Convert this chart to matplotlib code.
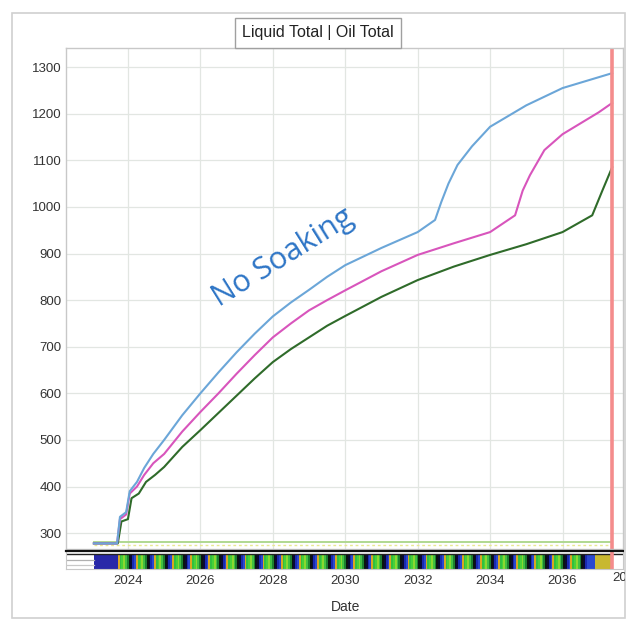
import matplotlib
matplotlib.use("Agg")
import matplotlib.pyplot as plt
import numpy as np
from matplotlib.patches import Rectangle
from matplotlib.colors import ListedColormap

# ---------------- data ----------------
blue_x = [2023.06, 2023.70, 2023.78, 2023.95, 2024.05, 2024.25, 2024.45, 2024.7, 2025, 2025.5, 2026, 2026.5,
          2027, 2027.5, 2028, 2028.5, 2029, 2029.5, 2030, 2031, 2032, 2032.48, 2032.65, 2032.85,
          2033.1, 2033.5, 2034, 2035, 2036, 2037.37]
blue_y = [278, 278, 335, 345, 390, 410, 440, 470, 500, 553, 600, 645,
          688, 728, 765, 795, 822, 850, 875, 912, 946, 972, 1010, 1050,
          1090, 1130, 1172, 1218, 1255, 1287]

pink_x = [2023.06, 2023.70, 2023.78, 2023.95, 2024.05, 2024.25, 2024.45, 2024.7, 2025, 2025.5, 2026, 2026.5,
          2027, 2027.5, 2028, 2028.5, 2029, 2029.5, 2030, 2031, 2032, 2033, 2034, 2034.69,
          2034.9, 2035.1, 2035.5, 2036, 2037, 2037.37]
pink_y = [278, 278, 330, 340, 385, 400, 425, 450, 470, 518, 560, 600,
          642, 682, 720, 750, 778, 800, 821, 862, 897, 922, 946, 982,
          1035, 1068, 1122, 1156, 1203, 1223]

green_x = [2023.06, 2023.72, 2023.82, 2024.0, 2024.1, 2024.3, 2024.5, 2024.75, 2025, 2025.5, 2026, 2026.5,
           2027, 2027.5, 2028, 2028.5, 2029, 2029.5, 2030, 2031, 2032, 2033, 2034, 2035,
           2036, 2036.82, 2037.1, 2037.37]
green_y = [278, 278, 325, 330, 375, 385, 410, 425, 442, 485, 521, 558,
           595, 632, 667, 695, 720, 745, 766, 807, 843, 872, 897, 920,
           946, 982, 1035, 1085]

base_x = [2023.06, 2037.37]
base_green_y = [281, 281]
base_dot_y = [275, 275]

end_date = 2037.37
x_ticks = [2024, 2026, 2028, 2030, 2032, 2034, 2036]
last_tick_label = "2038"
y_ticks = [300, 400, 500, 600, 700, 800, 900, 1000, 1100, 1200, 1300]

# timeline strip pattern
strip_start = 2023.06
strip_first_end = 2023.72
strip_last_start = 2036.9
stripe_period = 0.5
stripe_colors = ["#d8a820", "#30c040", "#48d038", "#8ad830", "#40c040", "#1c8030",
                 "#0c1410", "#0a0a34", "#1a2ab0", "#2a48d0"]
first_color = "#2828a8"
last_color = "#c8b830"

# ---------------- figure ----------------
W, H = 634, 619
fig = plt.figure(figsize=(W / 100, H / 100), dpi=100)
fig.patch.set_facecolor("white")

frame = Rectangle((12 / W, 1 - 618 / H), (625 - 12) / W, (618 - 13) / H,
                  transform=fig.transFigure, facecolor="none", edgecolor="#d0d0d0", lw=1.2)
fig.patches.append(frame)

L, R = 66 / W, 623 / W
ax = fig.add_axes([L, 1 - 549 / H, R - L, (549 - 48) / H])
sx = fig.add_axes([L, 1 - 569 / H, R - L, (569 - 551) / H])

xlim = (2022.29, 2037.67)
ax.set_xlim(*xlim)
ax.set_ylim(266, 1341)
ax.set_yticks(y_ticks)
ax.set_yticklabels([str(v) for v in y_ticks], fontsize=9.5, color="#333333", family="Liberation Sans")
ax.set_xticks(x_ticks)
ax.tick_params(axis="x", labelbottom=False, length=0)
ax.tick_params(axis="y", length=0, pad=3)
ax.grid(True, color="#e2e6e2", lw=0.9)
ax.set_axisbelow(True)
for s in ax.spines.values():
    s.set_color("#c8c8c8")
    s.set_linewidth(1.0)

ax.plot(base_x, base_dot_y, color="#e8e890", lw=1.0, ls=(0, (2, 2)))
ax.plot(base_x, base_green_y, color="#b0d890", lw=1.4)
ax.plot(green_x, green_y, color="#2f6b2a", lw=1.5)
ax.plot(pink_x, pink_y, color="#d855bc", lw=1.5)
ax.plot(blue_x, blue_y, color="#6ba6d8", lw=1.5)
ax.axvline(end_date, color="#f48c8c", lw=2.6)

ax.text(2028.28, 890, "No Soaking", rotation=32, fontsize=22, color="#2e75c6",
        family="Open Sans", ha="center", va="center", rotation_mode="anchor")

# title box
fig.text(318 / W, 1 - 33 / H, "Liquid Total | Oil Total", ha="center", va="center",
         fontsize=11.5, color="#222222", family="Liberation Sans",
         bbox=dict(boxstyle="square,pad=0.45", facecolor="white", edgecolor="#a0a0a0", lw=1))

# ---------------- strip ----------------
sx.set_xlim(*xlim)
sx.set_ylim(0, 1)
sx.set_yticks([])
sx.set_xticks(x_ticks)
sx.set_xticklabels([str(v) for v in x_ticks], fontsize=9.5, color="#333333", family="Liberation Sans")
sx.tick_params(axis="x", length=0, pad=4)
for k, s in sx.spines.items():
    s.set_color("#c8c8c8")
sx.spines["top"].set_color("#111111")
sx.spines["top"].set_linewidth(1.6)
frac0 = (strip_start - xlim[0]) / (xlim[1] - xlim[0])
sx.axhline(0.82, color="#222222", lw=1.0)
sx.axhline(0.5, color="#b0b0b0", lw=0.9, xmax=frac0)
sx.axhline(0.22, color="#c8c8c8", lw=0.9, xmax=frac0)

n_periods = int(round((strip_last_start - strip_first_end) / stripe_period))
seg = stripe_period / len(stripe_colors)
edges = [strip_start, strip_first_end]
cols = [first_color]
for p in range(n_periods):
    for j, c in enumerate(stripe_colors):
        edges.append(strip_first_end + p * stripe_period + (j + 1) * seg)
        cols.append(c)
edges[-1] = strip_last_start
edges.append(end_date)
cols.append(last_color)
cmap = ListedColormap(cols)
sx.pcolormesh(np.array(edges), np.array([0.0, 0.78]), np.arange(len(cols))[None, :],
              cmap=cmap, vmin=-0.5, vmax=len(cols) - 0.5, shading="flat")
sx.axvline(end_date, color="#f48c8c", lw=2.6)

# last tick label, cut by the outer frame as in the reference
t = fig.text(612 / W, 1 - 578 / H, last_tick_label, ha="left", va="center", fontsize=9.5,
             color="#333333", family="Liberation Sans")
t.set_clip_on(True)
t.set_clip_path(frame)

fig.text(346 / W, 1 - 607 / H, "Date", ha="center", va="center", fontsize=10,
         color="#333333", family="Liberation Sans")

fig.savefig("out.png", dpi=100, facecolor="white")
